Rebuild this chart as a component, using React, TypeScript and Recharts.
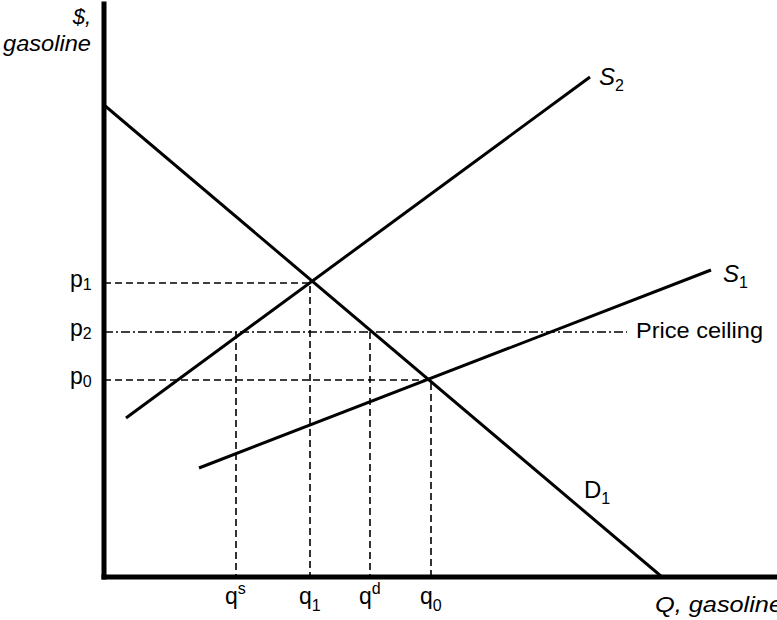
import React from 'react';
import {
  LineChart,
  Line,
  XAxis,
  YAxis,
  Label,
  LabelList,
} from 'recharts';

// unidades: q = quantidade, p = preço (escala livre do diagrama)
const curvaD1 = [{ q: 0, p: 472 }, { q: 558, p: 0 }];
const curvaS1 = [{ q: 95, p: 109 }, { q: 607, p: 307 }];
const curvaS2 = [{ q: 22, p: 159 }, { q: 486, p: 500 }];

const p1 = 294;
const p2 = 245;
const p0 = 197;
const qs = 132;
const q1 = 206;
const qd = 266;
const q0 = 327;
const fimTeto = 523;

const tetoPreco = [{ q: 0, p: p2 }, { q: fimTeto, p: p2 }];
const guiaP1 = [{ q: 0, p: p1 }, { q: q1, p: p1 }, { q: q1, p: 0 }];
const guiaP0 = [{ q: 0, p: p0 }, { q: q0, p: p0 }, { q: q0, p: 0 }];
const guiaQs = [{ q: qs, p: p2 }, { q: qs, p: 0 }];
const guiaQd = [{ q: qd, p: p2 }, { q: qd, p: 0 }];

const ticksQ = [qs, q1, qd, q0];
const rotulosQ: Record<number, { sup?: string; sub?: string }> = {
  [qs]: { sup: 's' },
  [q1]: { sub: '1' },
  [qd]: { sup: 'd' },
  [q0]: { sub: '0' },
};
const ticksP = [p0, p2, p1];
const rotulosP: Record<number, string> = { [p1]: '1', [p2]: '2', [p0]: '0' };

const fonte = '"Liberation Sans", Arial, Helvetica, sans-serif';

const TickQ = (props: any) => {
  const { x, y, payload } = props;
  const r = rotulosQ[payload.value] || {};
  return (
    <text x={x - 11} y={y + 27} fontFamily={fonte} fontSize={23} fill="#000">
      q
      {r.sup && <tspan fontSize={16} dy={-10}>{r.sup}</tspan>}
      {r.sub && <tspan fontSize={16} dy={7}>{r.sub}</tspan>}
    </text>
  );
};

const TickP = (props: any) => {
  const { x, y, payload } = props;
  return (
    <text x={x - 34} y={y + 4} fontFamily={fonte} fontSize={23} fill="#000">
      p
      <tspan fontSize={16} dy={3}>{rotulosP[payload.value]}</tspan>
    </text>
  );
};

// rótulo só no último ponto da curva
const rotuloFim = (
  nome: string, sub: string, dx: number, dy: number,
  italico = true, tam = 24, largura?: number, total = 2,
) =>
  (props: any) => {
    const { x, y, index } = props;
    if (index !== total - 1) return null;
    return (
      <text
        x={x + dx}
        y={y + dy}
        fontFamily={fonte}
        fontSize={tam}
        fill="#000"
        textLength={largura}
        lengthAdjust={largura ? 'spacingAndGlyphs' : undefined}
      >
        <tspan fontStyle={italico ? 'italic' : 'normal'}>{nome}</tspan>
        {sub && <tspan fontSize={16} dy={6}>{sub}</tspan>}
      </text>
    );
  };

const eixo = { stroke: '#000', strokeWidth: 5, strokeLinecap: 'square' as const };

const App: React.FC = () => {
  return (
    <div style={{ position: 'absolute', left: 0, top: 0 }}>
      <LineChart
        width={777}
        height={620}
        margin={{ top: 4, right: 0, bottom: 42, left: 103 }}
      >
        <XAxis
          type="number"
          dataKey="q"
          domain={[0, 673]}
          allowDataOverflow
          ticks={ticksQ}
          interval={0}
          tick={<TickQ />}
          tickLine={false}
          tickSize={0}
          tickMargin={0}
          height={1}
          axisLine={eixo}
        >
          <Label
            content={(p: any) => {
              const vb = p.viewBox || { x: 104, y: 577, width: 673 };
              return (
                <text
                  x={vb.x + vb.width - 122}
                  y={vb.y + 35}
                  fontFamily={fonte}
                  fontSize={22}
                  fontStyle="italic"
                  fill="#000"
                  textLength={128}
                  lengthAdjust="spacingAndGlyphs"
                >
                  Q, gasoline
                </text>
              );
            }}
          />
        </XAxis>
        <YAxis
          type="number"
          dataKey="p"
          domain={[0, 573]}
          allowDataOverflow
          ticks={ticksP}
          interval={0}
          tick={<TickP />}
          tickLine={false}
          tickSize={0}
          tickMargin={0}
          width={1}
          axisLine={eixo}
        >
          <Label
            content={(p: any) => {
              const vb = p.viewBox || { x: 103, y: 4, width: 1 };
              const xr = vb.x + (vb.width || 0) - 13;
              return (
                <g fontFamily={fonte} fontSize={22} fontStyle="italic" fill="#000">
                  <text x={xr} y={vb.y + 20} textAnchor="end">$,</text>
                  <text
                    x={xr - 88}
                    y={vb.y + 47}
                    textLength={88}
                    lengthAdjust="spacingAndGlyphs"
                  >
                    gasoline
                  </text>
                </g>
              );
            }}
          />
        </YAxis>

        {/* linhas guia tracejadas */}
        <Line data={guiaP1} dataKey="p" stroke="#000" strokeWidth={1.6} strokeDasharray="7 4" dot={false} isAnimationActive={false} />
        <Line data={guiaP0} dataKey="p" stroke="#000" strokeWidth={1.6} strokeDasharray="7 4" dot={false} isAnimationActive={false} />
        <Line data={guiaQs} dataKey="p" stroke="#000" strokeWidth={1.6} strokeDasharray="7 4" dot={false} isAnimationActive={false} />
        <Line data={guiaQd} dataKey="p" stroke="#000" strokeWidth={1.6} strokeDasharray="7 4" dot={false} isAnimationActive={false} />

        {/* teto de preço */}
        <Line data={tetoPreco} dataKey="p" stroke="#000" strokeWidth={1.6} strokeDasharray="9 3 2 3" dot={false} isAnimationActive={false}>
          <LabelList content={rotuloFim('Price ceiling', '', 9, 6, false, 22, 127)} />
        </Line>

        {/* curvas */}
        <Line data={curvaD1} dataKey="p" stroke="#000" strokeWidth={3} dot={false} isAnimationActive={false}>
          <LabelList content={rotuloFim('D', '1', -78, -79, false)} />
        </Line>
        <Line data={curvaS1} dataKey="p" stroke="#000" strokeWidth={3} dot={false} isAnimationActive={false}>
          <LabelList content={rotuloFim('S', '1', 12, 12)} />
        </Line>
        <Line data={curvaS2} dataKey="p" stroke="#000" strokeWidth={3} dot={false} isAnimationActive={false}>
          <LabelList content={rotuloFim('S', '2', 9, 8)} />
        </Line>
      </LineChart>
    </div>
  );
};

export default App;
